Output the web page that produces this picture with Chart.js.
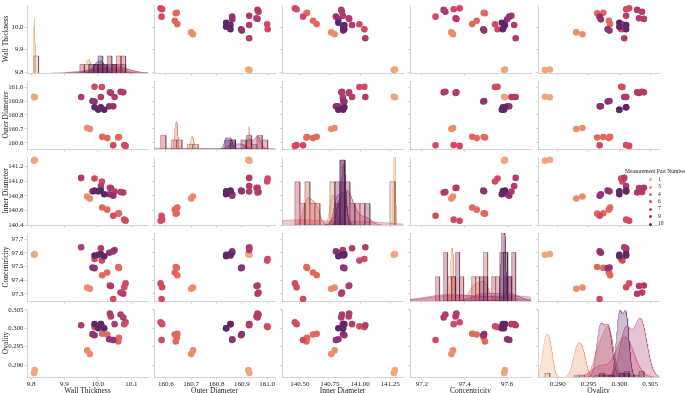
<!DOCTYPE html>
<html><head><meta charset="utf-8">
<script src="https://cdn.jsdelivr.net/npm/chart.js@4.4.1/dist/chart.umd.min.js"></script>
<style>
body{margin:0;background:#fff;}
#wrap{position:relative;width:685px;height:393px;overflow:hidden;font-family:'Liberation Serif','DejaVu Serif',serif;}
#wrap canvas{position:absolute;}
#legend{position:absolute;left:625px;top:168px;font-size:5.6px;color:#222;line-height:7.4px;}
#legend .t{margin-bottom:0.5px;white-space:nowrap;}
#legend .e{position:relative;height:7.4px;}
#legend .d{position:absolute;left:24px;top:2.3px;width:3px;height:3px;border-radius:50%;}
#legend .l{position:absolute;left:33px;top:0;}
</style></head><body><div id="wrap"></div>
<script>
// ---------- DATA ----------
const variableNames = ['Wall Thickness','Outer Diameter','Inner Diameter','Concentricity','Ovality'];
const partNumbers = [1,3,4,6,7,9,10];
const pointPart     = [1,1,3,3,4,4,4,4,6,6,6,6,6,7,7,7,7,7,7,7,9,9,9,9,10,10,10,10];
const wallThickness = [9.809,9.811,9.976,9.968,10.028,10.013,10.061,10.063,10.046,10.083,10.079,10.012,9.990,9.950,10.009,10.039,10.036,10.050,10.076,10.068,9.990,9.984,10.046,10.034,10.019,10.001,10.009,9.990];
const outerDiameter = [160.930,160.926,160.700,160.707,160.635,160.645,160.639,160.643,160.583,160.579,160.585,161.000,161.002,160.929,160.929,160.958,160.962,160.929,160.962,160.966,160.897,160.900,160.862,160.862,160.838,160.838,160.855,160.855];
const innerDiameter = [141.280,141.290,140.761,140.789,140.610,140.640,140.555,140.560,140.527,140.459,140.473,140.995,141.036,141.044,140.934,140.906,140.910,140.857,140.844,140.850,140.870,140.860,140.800,140.820,140.820,140.860,140.870,140.865];
const concentricity = [97.586,97.590,97.338,97.346,97.457,97.436,97.496,97.490,97.264,97.377,97.349,97.543,97.555,97.640,97.633,97.358,97.362,97.620,97.302,97.310,97.488,97.492,97.610,97.600,97.575,97.585,97.590,97.580];
const ovality       = [0.2879,0.2887,0.2930,0.2940,0.2983,0.2985,0.2964,0.2974,0.2968,0.3016,0.3011,0.3005,0.3003,0.3008,0.3011,0.3032,0.3040,0.3011,0.3029,0.3037,0.2981,0.2984,0.2968,0.2970,0.3000,0.3000,0.3011,0.3011];
// tick labels
const wtTicks = ['9.8','9.9','10.0','10.1'];
const wtTicksY = ['9.8','9.9','10.0'];
const odTicks = ['160.6','160.7','160.8','160.9','161.0'];
const idTicks = ['140.50','140.75','141.00','141.25'];
const idTicksY = ['140.4','140.6','140.8','141.0','141.2'];
const ccTicks = ['97.2','97.4','97.6'];
const ccTicksY = ['97.3','97.4','97.5','97.6','97.7'];
const ovTicks = ['0.290','0.295','0.300','0.305'];

// ---------- STYLE / LAYOUT ----------
const partColors = ['#eea67a','#e98d6b','#e3685c','#d14a61','#b13c6c','#8f3371','#5e2868'];
const xRanges = [[9.788,10.150],[160.553,161.031],[140.352,141.357],[97.144,97.712],[0.286774,0.306452]];
const yRanges = [[9.7956,10.0978],[160.557,161.043],[140.40,141.33],[97.249,97.744],[0.2868,0.3052]];
// diagonal: height as multiple of tallest bar (0 = fit tallest curve); density-curve gain
const diagTop = [4,5,1.05,1.4,0];
const kdeGain = [1,1,1,1,25];
const xTickSets = [wtTicks,odTicks,idTicks,ccTicks,ovTicks];
const yTickSets = [wtTicksY,odTicks,idTicksY,ccTicksY,ovTicks];
const plotLeft = [27,154,282,410,538], plotTop = [5,81,157,233,309];
const plotW = 121, plotH = 68, nBins = 20;
const FONT = "'Liberation Serif','Times New Roman',serif";
const AXC = '#c9c9c9';

const cols = [wallThickness,outerDiameter,innerDiameter,concentricity,ovality];
const wrap = document.getElementById('wrap');

function rgba(hex,a){const n=parseInt(hex.slice(1),16);return `rgba(${n>>16},${(n>>8)&255},${n&255},${a})`;}

function axis(pos, range, labels, showLabels, title, fixed){
  const left = pos==='left';
  return {
    type:'linear', position:pos, min:range[0], max:range[1],
    afterBuildTicks:(s)=>{s.ticks=labels.map(v=>({value:parseFloat(v)}));},
    afterFit:(s)=>{ if(left){s.width=fixed;s.paddingTop=0;s.paddingBottom=0;} else {s.height=fixed;s.paddingLeft=0;s.paddingRight=0;} },
    ticks:{display:showLabels, autoSkip:false, maxRotation:0, padding:1, color:'#222',
      font:{family:FONT,size:left?6.8:7,lineHeight:1}, callback:(v,i)=>labels[i]},
    grid:{display:true, drawOnChartArea:false, drawTicks:true, tickLength:2.5, color:AXC, lineWidth:0.8},
    border:{display:true,color:AXC,width:0.8},
    title:{display:!!title, text:title||'', color:'#222', font:{family:FONT,size:7.5,lineHeight:1}, padding:{top:left?3:0,bottom:0}}
  };
}

function histAndKde(c){
  const vals=cols[c];
  const lo=Math.min(...vals), hi=Math.max(...vals), w=(hi-lo)/nBins;
  const out=[]; let cmax=0, kmax=0;
  partNumbers.forEach((p,pi)=>{
    const v=vals.filter((_,i)=>pointPart[i]===p);
    const counts=new Array(nBins).fill(0);
    v.forEach(x=>{let k=Math.floor((x-lo)/w);k=Math.max(0,Math.min(nBins-1,k));counts[k]++;});
    const hp=[];
    counts.forEach((n,k)=>{if(!n)return;const x0=lo+k*w,x1=x0+w;hp.push({x:x0,y:0},{x:x0,y:n},{x:x1,y:n},{x:x1,y:0});cmax=Math.max(cmax,n);});
    const n=v.length, m=v.reduce((a,b)=>a+b,0)/n;
    let sd=n>1?Math.sqrt(v.reduce((a,b)=>a+(b-m)**2,0)/(n-1)):0;
    if(sd<=0) sd=(hi-lo)*0.003;
    const bw=sd*Math.pow(n,-0.2);
    const a=Math.min(...v)-3*bw, b=Math.max(...v)+3*bw, N=160, kp=[];
    for(let i=0;i<=N;i++){const x=a+(b-a)*i/N;let s=0;v.forEach(t=>{s+=Math.exp(-0.5*((x-t)/bw)**2);});
      const y=kdeGain[c]*w*s/(bw*Math.sqrt(2*Math.PI));kp.push({x,y});kmax=Math.max(kmax,y);}
    out.push({type:'line',data:kp,yAxisID:'yh',borderColor:rgba(partColors[pi],0.6),borderWidth:0.7,
      backgroundColor:rgba(partColors[pi],0.3),fill:'origin',pointRadius:0,tension:0});
    out.push({type:'line',data:hp,yAxisID:'yh',borderColor:'rgba(50,30,40,0.55)',borderWidth:0.6,
      backgroundColor:rgba(partColors[pi],0.4),fill:'origin',pointRadius:0,tension:0});
  });
  return {datasets:out.reverse(), cmax, kmax};
}

for(let r=0;r<5;r++){
  for(let c=0;c<5;c++){
    const yW = c===0?28:4, xH = r===4?18:4, padT=4, padR=4;
    const cv=document.createElement('canvas');
    const W=yW+plotW+padR, H=padT+plotH+xH;
    cv.width=W; cv.height=H;
    cv.style.left=(plotLeft[c]-yW)+'px'; cv.style.top=(plotTop[r]-padT)+'px';
    cv.style.width=W+'px'; cv.style.height=H+'px';
    wrap.appendChild(cv);
    const scales={
      x:axis('bottom',xRanges[c],xTickSets[c],r===4,r===4?variableNames[c]:null,xH),
      y:axis('left',yRanges[r],yTickSets[r],c===0,c===0?variableNames[r]:null,yW)
    };
    let datasets;
    if(r===c){
      const hk=histAndKde(c);
      datasets=hk.datasets;
      scales.yh={type:'linear',display:false,min:0,max:diagTop[c]>0?hk.cmax*diagTop[c]:hk.kmax*1.02};
    } else {
      datasets=partNumbers.map((p,pi)=>({
        type:'scatter', clip:false,
        data:cols[c].map((v,i)=>({x:v,y:cols[r][i],p:pointPart[i]})).filter(d=>d.p===p),
        backgroundColor:partColors[pi], borderWidth:0, pointRadius:3.3, pointHoverRadius:3.3
      })).reverse();
    }
    new Chart(cv,{type:'scatter',data:{datasets},options:{
      responsive:false, animation:false, devicePixelRatio:1,
      layout:{padding:{top:padT,right:padR,left:0,bottom:0}},
      plugins:{legend:{display:false},tooltip:{enabled:false}},
      scales
    }});
  }
}
// legend
const lg=document.createElement('div');lg.id='legend';
let html='<div class="t">Measurement Part Number</div>';
partNumbers.forEach((p,i)=>{html+=`<div class="e"><span class="d" style="background:${partColors[i]}"></span><span class="l">${p}</span></div>`;});
lg.innerHTML=html;wrap.appendChild(lg);
</script></body></html>
